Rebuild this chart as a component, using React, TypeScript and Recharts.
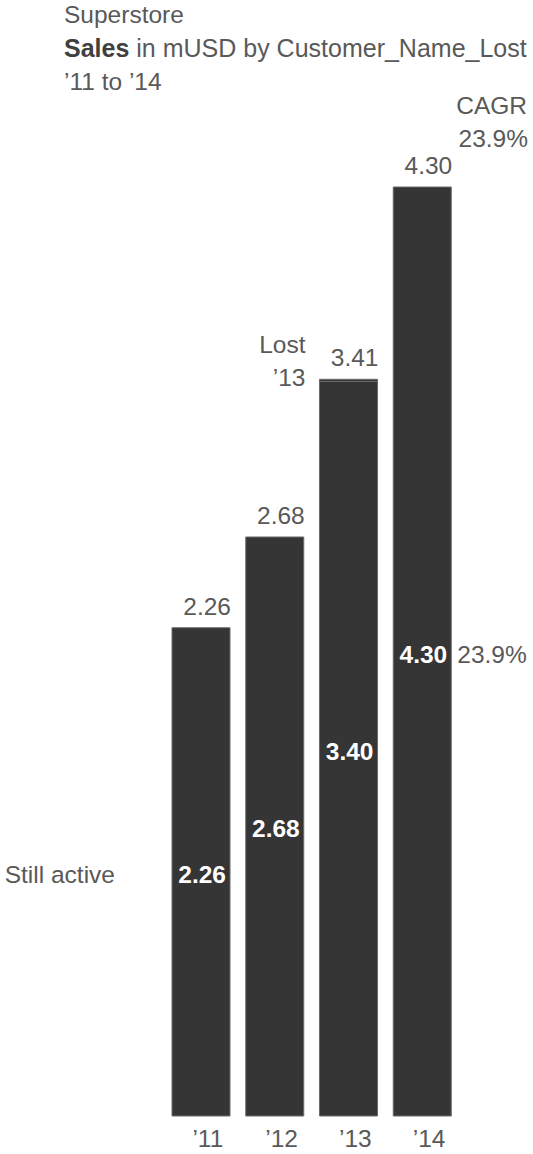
import { BarChart, Bar, XAxis, YAxis, LabelList } from "recharts";

// Sales in mUSD, split by customer status
const years = ["’11", "’12", "’13", "’14"];
const stillActive = [2.26, 2.68, 3.4, 4.3];
const lost13 = [0, 0, 0.01, 0];
const totals = [2.26, 2.68, 3.41, 4.3];
const cagr = "23.9%";

const data = years.map((year, i) => ({
  year,
  active: stillActive[i],
  lost: lost13[i],
}));

const FONT = '"Liberation Sans", Arial, sans-serif';
const FS = 24.5;
const GREY = "#595959";
const BAR = "#353535";

const YearTick = (props: any) => {
  const { x, y, payload } = props;
  return (
    <text x={x + 7} y={y + 23} textAnchor="middle" fill={GREY} fontSize={FS} fontFamily={FONT}>
      {payload.value}
    </text>
  );
};

// labels hang off the "still active" segment, since recharts skips zero-height bars
const ActiveLabel = (props: any) => {
  const { x, y, width, height, index } = props;
  const base = y + height / 2 + 11;
  const pxPerUnit = height / stillActive[index];
  const top = y - lost13[index] * pxPerUnit;
  return (
    <g fontFamily={FONT} fontSize={FS}>
      <text x={x + width - 4} y={base} textAnchor="end" fill="#fff" fontWeight="bold">
        {stillActive[index].toFixed(2)}
      </text>
      <text x={x + width + 1} y={top - 13} textAnchor="end" fill={GREY}>
        {totals[index].toFixed(2)}
      </text>
      {index === 0 && (
        <text x={x - 57} y={base} textAnchor="end" fill={GREY}>
          Still active
        </text>
      )}
      {index === years.length - 1 && (
        <text x={x + width + 6} y={base} textAnchor="start" fill={GREY}>
          {cagr}
        </text>
      )}
      {lost13[index] > 0 && (
        <>
          <text x={x - 14} y={top - 26} textAnchor="end" fill={GREY}>Lost</text>
          <text x={x - 14} y={top + 7} textAnchor="end" fill={GREY}>{years[index]}</text>
        </>
      )}
    </g>
  );
};

export default function App() {
  return (
    <div style={{ position: "absolute", left: 0, top: 0, width: 533, height: 1154 }}>
      <BarChart
        width={533}
        height={1154}
        data={data}
        margin={{ top: 187, right: 74, left: 164, bottom: 8 }}
      >
        <XAxis
          dataKey="year"
          axisLine={false}
          tickLine={false}
          height={30}
          interval={0}
          tick={<YearTick />}
        />
        <YAxis hide domain={[0, 4.3]} />
        <Bar dataKey="active" stackId="s" fill={BAR} stroke="#6a6a6a" strokeWidth={1} barSize={58} isAnimationActive={false}>
          <LabelList dataKey="active" content={<ActiveLabel />} />
        </Bar>
        <Bar dataKey="lost" stackId="s" fill={BAR} stroke="#6a6a6a" strokeWidth={1} barSize={58} isAnimationActive={false} />
      </BarChart>
      <svg
        width={533}
        height={160}
        style={{ position: "absolute", left: 0, top: 0, pointerEvents: "none" }}
        fontFamily={FONT}
        fontSize={FS}
        fill={GREY}
      >
        <text x={64} y={23}>Superstore</text>
        <text x={64} y={57} fontSize={25}>
          <tspan fontWeight="bold" fill="#404040">Sales</tspan> in mUSD by Customer_Name_Lost
        </text>
        <text x={64} y={90}>’11 to ’14</text>
        <text x={527} y={114} textAnchor="end">CAGR</text>
        <text x={528} y={147} textAnchor="end">{cagr}</text>
      </svg>
    </div>
  );
}
